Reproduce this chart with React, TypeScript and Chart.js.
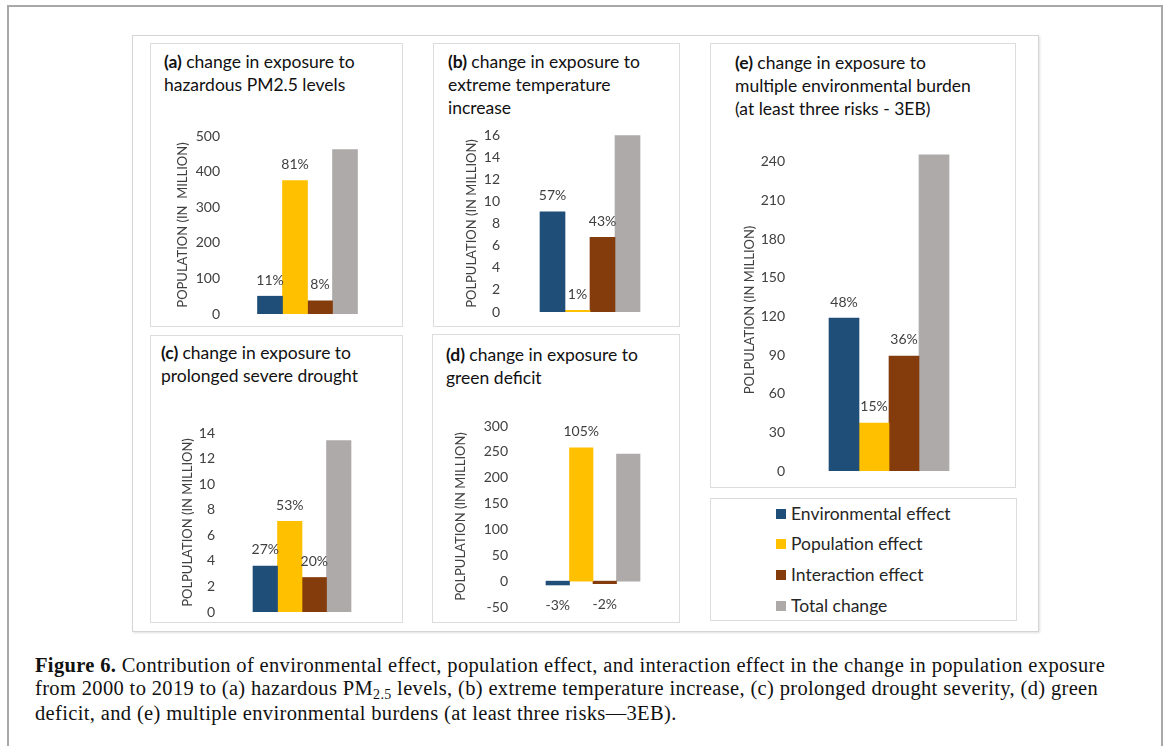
import React, { useEffect, useRef } from 'react';
import { Chart, registerables } from 'chart.js';

Chart.register(...registerables);
Chart.defaults.font.family = 'Lato, "Open Sans", sans-serif';

// ---------- data ----------
const seriesNames = ['Environmental effect', 'Population effect', 'Interaction effect', 'Total change'];
const seriesColors = ['#1F4E79', '#FFC000', '#843C0C', '#AEAAAA'];

// ticks: [min, last labelled tick, step, axis max]
const valuesA = [50, 375, 37, 462];
const pctA = ['11%', '81%', '8%', ''];
const ticksA = [0, 500, 100, 500];

const valuesB = [9.05, 0.15, 6.75, 15.95];
const pctB = ['57%', '1%', '43%', ''];
const ticksB = [0, 16, 2, 16];

const valuesC = [3.6, 7.1, 2.7, 13.4];
const pctC = ['27%', '53%', '20%', ''];
const ticksC = [0, 14, 2, 14];

const valuesD = [-7.4, 258, -4.9, 245.7];
const pctD = ['-3%', '105%', '-2%', ''];
const ticksD = [-50, 300, 50, 300];

const valuesE = [118.8, 37.3, 89.3, 245.4];
const pctE = ['48%', '15%', '36%', ''];
const ticksE = [0, 240, 30, 250];

const axisTitleA = 'POPULATION (IN  MILLION)';
const axisTitleOther = 'POLPULATION (IN MILLION)';

// ---------- styling ----------
const TXT = '#404040';
const PAD = 18;

const pctPlugin = {
  id: 'pctLabels',
  afterDatasetsDraw(chart: any, _args: any, opts: any) {
    const labels: string[] = opts.labels || [];
    const ctx = chart.ctx;
    ctx.save();
    ctx.font = '14px Lato, sans-serif';
    ctx.fillStyle = TXT;
    ctx.textAlign = 'center';
    ctx.textBaseline = 'middle';
    chart.data.datasets.forEach((ds: any, i: number) => {
      const t = labels[i];
      if (!t) return;
      const el = chart.getDatasetMeta(i).data[0];
      const v = ds.data[0];
      const y = v >= 0 ? el.y - 16 : el.y + 21;
      ctx.fillText(t, el.x, y);
    });
    ctx.restore();
  },
};

type Geo = { x1: number; x2: number; y1: number; y2: number; tx: number; bt: number };

function BarChart(props: { values: number[]; pct: string[]; ticks: number[]; axisTitle: string; g: Geo }) {
  const { values, pct, ticks, axisTitle, g } = props;
  const ref = useRef<HTMLCanvasElement>(null);
  const left = Math.round(g.tx - 7.8);
  const yw = g.x1 - left;
  const width = Math.round(g.x2 - left);
  const top = g.y1 - PAD;
  const height = Math.round(g.y2 - g.y1 + 2 * PAD);
  useEffect(() => {
    const chart = new Chart(ref.current as HTMLCanvasElement, {
      type: 'bar',
      data: {
        labels: [''],
        datasets: seriesNames.map((name, i) => ({
          label: name,
          data: [values[i]],
          backgroundColor: seriesColors[i],
          borderWidth: 0,
          barThickness: g.bt,
        })),
      },
      options: {
        animation: false,
        responsive: false,
        maintainAspectRatio: false,
        layout: { padding: { top: PAD, bottom: PAD, left: 0, right: 0 } },
        plugins: {
          legend: { display: false },
          tooltip: { enabled: false },
          // @ts-ignore
          pctLabels: { labels: pct },
        },
        scales: {
          x: { display: false },
          y: {
            min: ticks[0],
            max: ticks[3],
            ticks: { stepSize: ticks[2], padding: 8, color: TXT, font: { size: 14 } },
            grid: { display: false, drawTicks: false },
            border: { display: false },
            title: { display: true, text: axisTitle, color: TXT, font: { size: 13 }, padding: 0 },
            afterBuildTicks: (s: any) => {
              const out: any[] = [];
              for (let v = ticks[0]; v <= ticks[1] + 1e-9; v += ticks[2]) out.push({ value: v });
              s.ticks = out;
            },
            afterFit: (s: any) => {
              s.width = yw;
            },
          },
        },
      } as any,
      plugins: [pctPlugin as any],
    });
    return () => chart.destroy();
  }, []);
  return (
    <canvas
      ref={ref}
      width={width}
      height={height}
      style={{ position: 'absolute', left, top, width, height }}
    />
  );
}

function Box(props: { left: number; top: number; w: number; h: number }) {
  return (
    <div
      style={{
        position: 'absolute',
        left: props.left,
        top: props.top,
        width: props.w,
        height: props.h,
        border: '1px solid #DCDCDC',
        boxSizing: 'border-box',
        background: '#fff',
      }}
    />
  );
}

function Title(props: { left: number; top: number; bold: string; lines: string[] }) {
  return (
    <div
      style={{
        position: 'absolute',
        left: props.left,
        top: props.top,
        fontFamily: 'Lato, sans-serif',
        fontSize: 17.5,
        lineHeight: '23px',
        color: '#111',
        whiteSpace: 'nowrap',
      }}
    >
      {props.lines.map((l, i) => (
        <div key={i}>
          {i === 0 ? <b>{props.bold} </b> : null}
          {l}
        </div>
      ))}
    </div>
  );
}

export default function App() {
  const legendRows = [514, 544, 575, 606];
  return (
    <div style={{ position: 'absolute', left: 0, top: 0, width: 1170, height: 746, overflow: 'hidden', background: '#fff' }}>
      {/* outer page border */}
      <div
        style={{
          position: 'absolute',
          left: 7,
          top: 5,
          width: 1156,
          height: 780,
          border: '2px solid #A8A8A8',
          boxSizing: 'border-box',
        }}
      />
      {/* figure frame */}
      <div
        style={{
          position: 'absolute',
          left: 132,
          top: 35,
          width: 907,
          height: 597,
          border: '1px solid #D4D4D4',
          boxShadow: '1px 1px 2px rgba(0,0,0,0.12)',
          boxSizing: 'border-box',
          background: '#fff',
        }}
      />
      <Box left={150} top={43} w={253} h={284} />
      <Box left={433} top={43} w={247} h={284} />
      <Box left={150} top={335} w={253} h={288} />
      <Box left={432} top={334} w={248} h={289} />
      <Box left={710} top={43} w={306} h={445} />
      <Box left={710} top={498} w={307} h={123} />

      <Title left={164} top={50} bold="(a)" lines={['change in exposure to', 'hazardous PM2.5 levels']} />
      <Title left={448} top={50} bold="(b)" lines={['change in exposure to', 'extreme temperature', 'increase']} />
      <Title left={161} top={341} bold="(c)" lines={['change in exposure to', 'prolonged severe drought']} />
      <Title left={446} top={343} bold="(d)" lines={['change in exposure to', 'green deficit']} />
      <Title left={735} top={51} bold="(e)" lines={['change in exposure to', 'multiple environmental burden', '(at least three risks - 3EB)']} />

      <BarChart values={valuesA} pct={pctA} ticks={ticksA} axisTitle={axisTitleA} g={{ x1: 228, x2: 387, y1: 136, y2: 313.5, tx: 183, bt: 25 }} />
      <BarChart values={valuesB} pct={pctB} ticks={ticksB} axisTitle={axisTitleOther} g={{ x1: 508, x2: 672, y1: 135, y2: 312, tx: 472, bt: 25 }} />
      <BarChart values={valuesC} pct={pctC} ticks={ticksC} axisTitle={axisTitleOther} g={{ x1: 223, x2: 381, y1: 433, y2: 612, tx: 188, bt: 24.5 }} />
      <BarChart values={valuesD} pct={pctD} ticks={ticksD} axisTitle={axisTitleOther} g={{ x1: 516, x2: 670, y1: 426, y2: 607, tx: 461, bt: 23.5 }} />
      <BarChart values={valuesE} pct={pctE} ticks={ticksE} axisTitle={axisTitleOther} g={{ x1: 793, x2: 985, y1: 149, y2: 471, tx: 750, bt: 30 }} />

      {/* legend */}
      {seriesNames.map((name, i) => (
        <div key={name}>
          <div
            style={{
              position: 'absolute',
              left: 776,
              top: legendRows[i] - 5,
              width: 10,
              height: 10,
              background: seriesColors[i],
            }}
          />
          <div
            style={{
              position: 'absolute',
              left: 791,
              top: legendRows[i] - 11,
              height: 22,
              lineHeight: '22px',
              fontFamily: 'Lato, sans-serif',
              fontSize: 17.5,
              color: '#262626',
              whiteSpace: 'nowrap',
            }}
          >
            {name}
          </div>
        </div>
      ))}

      {/* caption */}
      <div
        style={{
          position: 'absolute',
          left: 35,
          top: 654,
          fontFamily: '"Liberation Serif", "Times New Roman", serif',
          fontSize: 20.5,
          letterSpacing: '0.35px',
          lineHeight: '22.5px',
          color: '#111',
          whiteSpace: 'nowrap',
        }}
      >
        <div>
          <b>Figure 6.</b> Contribution of environmental effect, population effect, and interaction effect in the change in population exposure
        </div>
        <div>
          from 2000 to 2019 to (a) hazardous PM
          <span style={{ fontSize: 14, position: 'relative', top: 4 }}>2.5</span> levels, (b) extreme temperature increase, (c) prolonged drought severity, (d) green
        </div>
        <div>deficit, and (e) multiple environmental burdens (at least three risks—3EB).</div>
      </div>
    </div>
  );
}
